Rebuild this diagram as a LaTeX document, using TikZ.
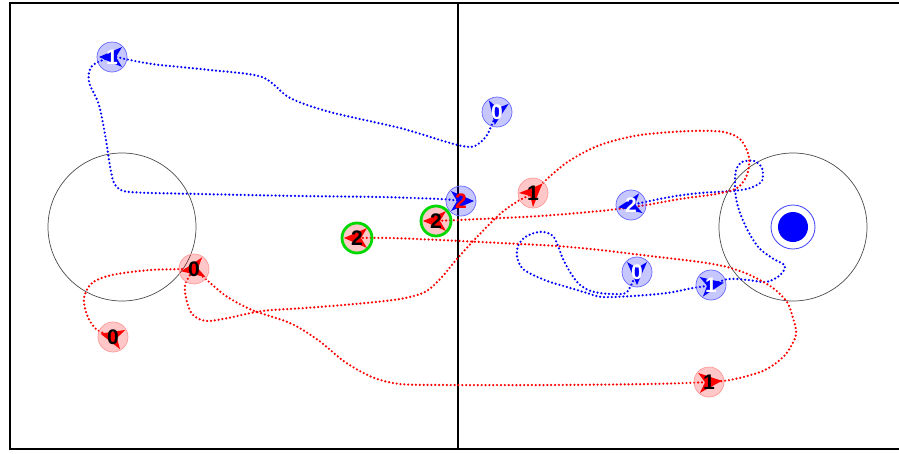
\documentclass[tikz,border=0pt]{standalone}
\usepackage{fontspec}
\setsansfont{Liberation Sans}
\usepackage{tikz}
\usetikzlibrary{positioning}
\usepackage{xcolor}

\pgfdeclarelayer{bg}
\pgfdeclarelayer{mid}
\pgfsetlayers{bg,mid,main}

\tikzset{
  bot/.style={circle, minimum size=0.6cm, inner sep=0pt, fill opacity=0.22, text opacity=1,
    font=\sffamily\bfseries\fontsize{12}{12}\selectfont},
  bluebot/.style={bot, fill=blue, draw=blue!60, text=white},
  redbot/.style={bot, fill=red, draw=red!40, text=black},
  picked/.style={draw=green!85!black, line width=1.6pt},
  heading/.pic={\fill (13,0) -- (-10,10) -- (-4,0) -- (-10,-10) -- cycle;},
  bluetrail/.style={blue, line width=1.4pt, line cap=round, dash pattern=on 0pt off 2.2pt},
  redtrail/.style={red, line width=1.4pt, line cap=round, dash pattern=on 0pt off 2.2pt},
}

\begin{document}
\begin{tikzpicture}[x=0.02cm, y=-0.02cm]
    \useasboundingbox (0,0) rectangle (899,453);

    % blue robots
    \node[bluebot] (b1a) at (112,57) {1};
    \node[bluebot] (b0a) at (497,112) {0};
    \node[bluebot, text=red] (b2a) at (461,201) {2};
    \node[bluebot] (b2b) at (631,205) {2};
    \node[bluebot] (b0b) at (637,272) {0};
    \node[bluebot] (b1b) at (711,285) {1};

    % red robots
    \node[redbot] (r0a) at (113,337) {0};
    \node[redbot] (r0b) at (194,269) {0};
    \node[redbot] (r1a) at (533,193) {1};
    \node[redbot] (r1b) at (709,382) {1};
    \node[redbot, picked] (r2a) at (357,238) {2};
    \node[redbot, picked] (r2b) at (436,221) {2};

    % headings
    \begin{pgfonlayer}{mid}
    \pic[blue, rotate=180] at (b1a) {heading};
    \pic[blue, rotate=260] at (b0a) {heading};
    \pic[blue, rotate=0] at (b2a) {heading};
    \pic[blue, rotate=190] at (b2b) {heading};
    \pic[blue, rotate=270] at (b0b) {heading};
    \pic[blue, rotate=10] at (b1b) {heading};
    \pic[red, rotate=165] at (r0a) {heading};
    \pic[red, rotate=190] at (r0b) {heading};
    \pic[red, rotate=45] at (r1a) {heading};
    \pic[red, rotate=5] at (r1b) {heading};
    \pic[red, rotate=180] at (r2a) {heading};
    \pic[red, rotate=180] at (r2b) {heading};
    \end{pgfonlayer}

    \begin{pgfonlayer}{bg}
    % field
    \draw[line width=1.2pt] (899,3) -- (10,3) -- (10,449) -- (899,449);
    \draw[line width=1.2pt] (458,3) -- (458,449);
    \draw[gray!60!black, line width=0.4pt] (122,227) circle (74);
    \draw[gray!60!black, line width=0.4pt] (793,227) circle (74);
    \fill[blue] (793,227) circle (15);
    \draw[blue!70, line width=0.5pt] (793,227) circle (22);

    % blue trails
    \draw[bluetrail] plot[smooth] coordinates {(b2a.center) (440,199) (380,197) (300,196)
      (200,194) (130,192) (116,186) (111,172) (106,140) (99,105) (89,82) (92,66) (b1a.center)
      (125,59) (140,62) (160,65) (210,70) (262,77) (290,98) (330,112) (400,128) (440,140)
      (462,146) (475,146) (487,135) (b0a.center)};
    \draw[bluetrail] plot[smooth] coordinates {(b2b.center) (670,197) (700,193) (733,191)
      (750,188) (762,181) (762,168) (754,161) (742,162) (736,170) (735,183) (736,198) (740,213)
      (748,231) (759,248) (772,258) (785,266) (779,276) (766,282) (748,280) (728,279)
      (b1b.center) (693,288) (667,293) (633,296) (602,297) (587,293) (567,287) (550,282)
      (533,275) (522,268) (517,257) (518,246) (524,238) (534,233) (544,232) (553,236)
      (558,246) (563,259) (570,272) (578,283) (588,290) (600,293) (614,294) (627,292)
      (b0b.center)};

    % red trails
    \draw[redtrail] plot[smooth] coordinates {(r0a.center) (96,329) (87,315) (84,298)
      (92,283) (112,275) (150,270) (r0b.center)};
    \draw[redtrail] plot[smooth] coordinates {(r0b.center) (185,285) (187,302) (193,315)
      (206,321) (228,318) (262,311) (305,308) (355,304) (400,299) (425,292) (441,278)
      (456,260) (476,238) (500,214) (518,201) (r1a.center) (547,179) (569,161) (600,145)
      (640,135) (690,131) (724,132) (741,140) (749,157) (747,175) (737,188) (716,194)
      (680,199) (640,206) (600,211) (540,216) (480,219) (r2b.center)};
    \draw[redtrail] plot[smooth] coordinates {(r0b.center) (208,281) (226,296) (252,310)
      (290,323) (318,340) (345,362) (372,377) (400,384) (450,385) (550,385) (650,384)
      (r1b.center) (735,379) (765,370) (785,355) (796,335) (793,318) (787,302) (773,288)
      (750,275) (727,267) (700,262) (650,256) (600,250) (557,246) (500,243) (440,240)
      (390,238) (r2a.center)};
    \end{pgfonlayer}
\end{tikzpicture}
\end{document}
